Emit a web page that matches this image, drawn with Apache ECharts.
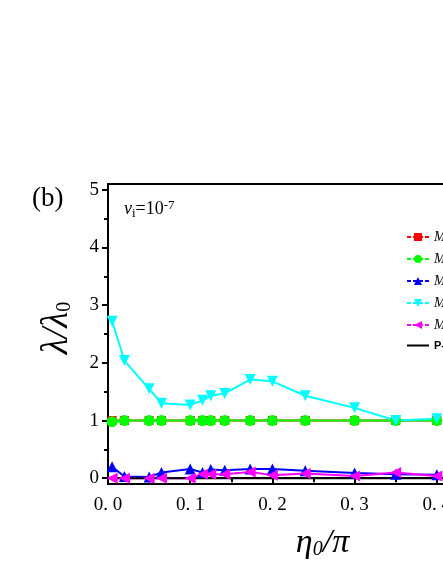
<!DOCTYPE html>
<html>
<head>
<meta charset="utf-8">
<script src="https://cdn.jsdelivr.net/npm/echarts@6/dist/echarts.min.js"></script>
<style>
    html, body {margin: 0; padding: 0; background: #fff;}
    #chart {width: 443px; height: 573px;}
</style>
</head>
<body>
<div id="chart"></div>
<script>
// eta0/pi sample points
const etaValues = [0.005, 0.02, 0.05, 0.065, 0.1, 0.115, 0.125, 0.142, 0.173, 0.2, 0.24, 0.3, 0.35, 0.4];
const seriesNames = ['M=1', 'M=2', 'M=3', 'M=4', 'M=5', 'P-R'];
const redValues = [1.0, 1.0, 1.0, 1.0, 1.0, 1.0, 1.0, 1.0, 1.0, 1.0, 1.0, 1.0, 1.0, 1.0];
const greenValues = [0.98, 1.0, 1.0, 1.0, 1.0, 1.0, 1.0, 1.0, 1.0, 1.0, 1.0, 1.0, 1.0, 1.0];
const blueValues = [0.2, 0.03, 0.02, 0.1, 0.16, 0.1, 0.15, 0.14, 0.16, 0.16, 0.13, 0.09, 0.07, 0.06];
const cyanValues = [2.72, 2.04, 1.55, 1.3, 1.27, 1.35, 1.43, 1.47, 1.71, 1.68, 1.43, 1.22, 1.0, 1.03];
const magentaValues = [0.0, 0.0, 0.0, 0.0, 0.0, 0.07, 0.07, 0.07, 0.11, 0.05, 0.08, 0.04, 0.1, 0.04];
const blackX = [0, 0.5];
const blackValues = [0, 0];
const yMajorTicks = [0, 1, 2, 3, 4, 5];
const yMinorTicks = [0.5, 1.5, 2.5, 3.5, 4.5];

const serif = 'Liberation Serif';
const pairs = (xs, ys) => xs.map((x, i) => [x, ys[i]]);

const myChart = echarts.init(document.getElementById('chart'));

const markerSeries = (name, color, values, symbol, size, rotate) => ({
    name: name,
    type: 'line',
    data: pairs(etaValues, values),
    symbol: symbol,
    symbolSize: size,
    symbolRotate: rotate || 0,
    lineStyle: {color: color, width: 2},
    itemStyle: {color: color},
    animation: false
});

let legendData = seriesNames.map(n => ({name: n}));
// the last entry is a plain line, no marker
legendData[5].icon = 'path://M0,0 L22,0 L22,2 L0,2 Z';
legendData[5].textStyle = {fontFamily: 'Liberation Sans', fontStyle: 'normal', fontWeight: 'bold', fontSize: 11};

let option = {
    title: {
        text: '(b)',
        left: 27,
        top: 180,
        textStyle: {fontFamily: serif, fontSize: 27, fontWeight: 'normal', color: '#000'}
    },
    legend: {
        orient: 'vertical',
        left: 401,
        top: 225,
        itemWidth: 22,
        itemHeight: 10,
        itemGap: 8,
        data: legendData,
        lineStyle: {type: [4, 2]},
        textStyle: {fontFamily: serif, fontSize: 14, fontStyle: 'italic', color: '#000'}
    },
    grid: {
        left: 108,
        top: 184,
        width: 411,
        bottom: 89,
        show: true,
        borderColor: '#000',
        borderWidth: 2,
        outerBoundsMode: 'none',
        containLabel: false
    },
    graphic: [{
        type: 'text',
        left: 124,
        top: 199,
        style: {
            text: '{v|v}{s|i}{t|=10}{p|-7}',
            rich: {
                v: {fontFamily: serif, fontSize: 18, fontStyle: 'italic', fill: '#000'},
                s: {fontFamily: serif, fontSize: 13, fill: '#000', padding: [8, 0, 0, 0]},
                t: {fontFamily: serif, fontSize: 18, fill: '#000'},
                p: {fontFamily: serif, fontSize: 13, fill: '#000', padding: [0, 0, 8, 0]}
            }
        }
    }],
    xAxis: {
        type: 'value',
        min: 0,
        max: 0.5,
        interval: 0.1,
        name: '{e|η}{z|0}{e|/π}',
        nameLocation: 'middle',
        nameGap: 42,
        nameTextStyle: {
            padding: [0, 0, 0, 18],
            rich: {
                e: {fontFamily: serif, fontSize: 34, fontStyle: 'italic', color: '#000'},
                z: {fontFamily: serif, fontSize: 20, fontStyle: 'italic', color: '#000', padding: [14, 0, 0, 0]}
            }
        },
        axisLine: {lineStyle: {color: '#000', width: 2}},
        axisTick: {length: 6, lineStyle: {width: 2}},
        minorTick: {show: true, splitNumber: 2, length: 4, lineStyle: {color: '#000', width: 2}},
        splitLine: {show: false},
        axisLabel: {
            margin: 12,
            fontFamily: serif,
            fontSize: 19,
            color: '#000',
            formatter: v => v.toFixed(1).replace('.', '. ')
        }
    },
    yAxis: [{
        type: 'value',
        min: -0.1,
        max: 5.1,
        name: '{l|λ/λ}{z|0}',
        nameLocation: 'middle',
        nameGap: 32,
        nameTextStyle: {
            padding: [0, 0, 0, 12],
            rich: {
                l: {fontFamily: serif, fontSize: 37, fontStyle: 'italic', color: '#000'},
                z: {fontFamily: serif, fontSize: 20, color: '#000', padding: [14, 0, 0, 0]}
            }
        },
        axisLine: {show: true, lineStyle: {color: '#000', width: 2}},
        axisTick: {show: true, length: 6, lineStyle: {width: 2}, customValues: yMajorTicks},
        splitLine: {show: false},
        axisLabel: {
            margin: 9,
            fontFamily: serif,
            fontSize: 19,
            color: '#000',
            customValues: yMajorTicks
        }
    }, {
        type: 'value',
        min: -0.1,
        max: 5.1,
        position: 'left',
        axisLine: {show: false},
        axisTick: {show: true, length: 4, lineStyle: {color: '#000', width: 2}, customValues: yMinorTicks},
        axisLabel: {show: false, customValues: yMinorTicks},
        splitLine: {show: false}
    }],
    series: [
        markerSeries(seriesNames[0], '#ff0000', redValues, 'rect', 9),
        markerSeries(seriesNames[1], '#00ff00', greenValues, 'circle', 11),
        markerSeries(seriesNames[2], '#0000ff', blueValues, 'triangle', 11),
        markerSeries(seriesNames[3], '#00ffff', cyanValues, 'triangle', 11, 180),
        markerSeries(seriesNames[4], '#ff00ff', magentaValues, 'triangle', 11, 90),
        {
            name: seriesNames[5],
            type: 'line',
            data: pairs(blackX, blackValues),
            symbol: 'none',
            lineStyle: {color: '#000', width: 2},
            itemStyle: {color: '#000'},
            animation: false
        }
    ]
};

myChart.setOption(option);
</script>
</body>
</html>
